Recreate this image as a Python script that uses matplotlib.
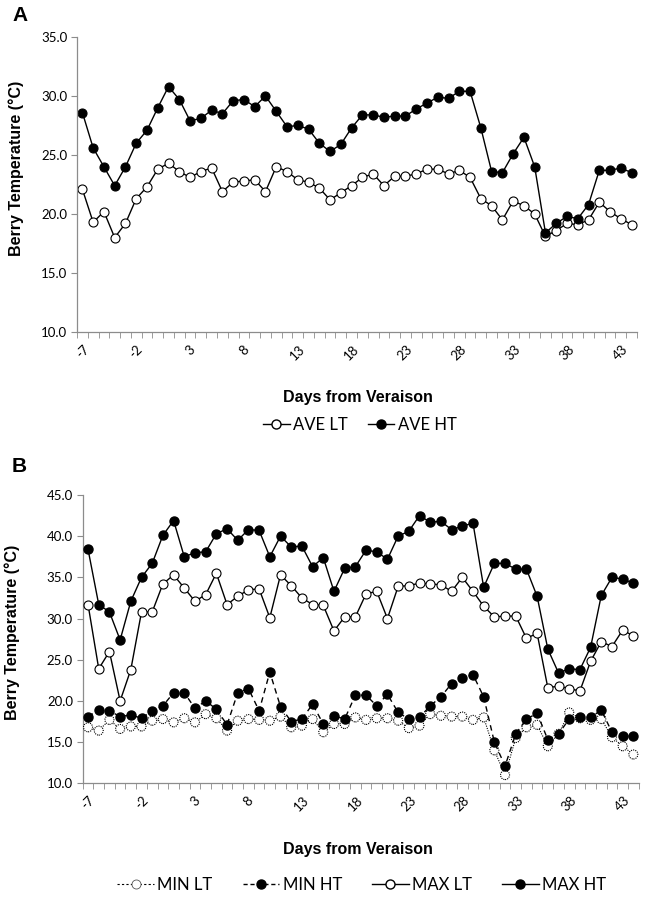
import matplotlib
matplotlib.use("Agg")
import matplotlib.pyplot as plt
from matplotlib.lines import Line2D

days = list(range(-7, 45))

ave_lt = [22.1, 19.3, 20.2, 18.0, 19.2, 21.3, 22.3, 23.8, 24.3, 23.6, 23.1, 23.6, 23.9, 21.9, 22.7, 22.8, 22.9,
          21.9, 24.0, 23.6, 22.9, 22.7, 22.2, 21.2, 21.8, 22.4, 23.1, 23.4, 22.4, 23.2, 23.2, 23.4, 23.8, 23.8, 23.4,
          23.7, 23.1, 21.3, 20.7, 19.5, 21.1, 20.7, 20.0, 18.1, 18.6, 19.2, 19.1, 19.5, 21.0, 20.2, 19.6, 19.1]
ave_ht = [28.6, 25.6, 24.0, 22.4, 24.0, 26.0, 27.1, 29.0, 30.8, 29.7, 27.9, 28.1, 28.8, 28.5, 29.6, 29.7, 29.1,
          30.0, 28.7, 27.4, 27.5, 27.2, 26.0, 25.3, 25.9, 27.3, 28.4, 28.4, 28.2, 28.3, 28.3, 28.9, 29.4, 29.9, 29.8,
          30.4, 30.4, 27.3, 23.6, 23.5, 25.1, 26.5, 24.0, 18.4, 19.2, 19.8, 19.6, 20.8, 23.7, 23.7, 23.9, 23.5]

min_lt = [16.8, 16.4, 17.7, 16.6, 16.9, 16.9, 17.6, 17.8, 17.4, 17.9, 17.4, 18.4, 17.9, 16.4, 17.6, 17.8, 17.7,
          17.6, 18.1, 16.8, 17.0, 17.8, 16.2, 17.2, 17.2, 18.0, 17.7, 17.9, 17.9, 17.6, 16.7, 17.0, 18.4, 18.2,
          18.1, 18.1, 17.7, 18.0, 14.0, 11.0, 15.5, 16.8, 17.1, 14.5, 16.0, 18.6, 17.9, 17.7, 17.8, 15.6, 14.5, 13.5]
min_ht = [18.1, 18.9, 18.8, 18.1, 18.3, 17.9, 18.8, 19.4, 21.0, 21.0, 19.1, 20.0, 19.0, 17.1, 21.0, 21.5, 18.8,
          23.5, 19.3, 17.5, 17.8, 19.6, 17.2, 18.2, 17.8, 20.7, 20.7, 19.4, 20.8, 18.6, 17.8, 18.0, 19.4, 20.5,
          22.1, 22.8, 23.2, 20.5, 15.0, 12.1, 16.0, 17.8, 18.5, 15.3, 16.0, 17.8, 18.0, 18.0, 18.9, 16.2, 15.8, 15.7]
max_lt = [31.7, 23.9, 26.0, 20.0, 23.8, 30.8, 30.8, 34.2, 35.3, 33.7, 32.1, 32.9, 35.5, 31.7, 32.7, 33.5, 33.6,
          30.1, 35.3, 34.0, 32.5, 31.7, 31.6, 28.5, 30.2, 30.2, 33.0, 33.3, 30.0, 33.9, 34.0, 34.3, 34.2, 34.1,
          33.3, 35.0, 33.3, 31.5, 30.2, 30.3, 30.3, 27.6, 28.2, 21.6, 21.8, 21.5, 21.2, 24.8, 27.2, 26.6, 28.6, 27.9]
max_ht = [38.4, 31.7, 30.8, 27.4, 32.1, 35.0, 36.7, 40.1, 41.9, 37.5, 38.0, 38.1, 40.3, 40.9, 39.5, 40.8, 40.7,
          37.5, 40.0, 38.7, 38.8, 36.3, 37.4, 33.3, 36.1, 36.3, 38.3, 38.1, 37.2, 40.0, 40.6, 42.5, 41.7, 41.8,
          40.8, 41.2, 41.6, 33.8, 36.7, 36.7, 36.0, 36.0, 32.7, 26.3, 23.4, 23.9, 23.8, 26.5, 32.8, 35.0, 34.8, 34.3]

label_font = ["Liberation Sans Narrow", "Liberation Sans", "DejaVu Sans"]
tick_font = ["Lato", "DejaVu Sans"]
grey = "#8c8c8c"
ms = 6.5

fig = plt.figure(figsize=(6.46, 8.97), dpi=100)
axA = fig.add_axes([77 / 646, 1 - 332 / 897, 560 / 646, 295 / 897])
axB = fig.add_axes([82.7 / 646, 1 - 783.3 / 897, 556 / 646, 288.3 / 897])

idx = list(range(len(days)))


def style_axis(ax, ymin, ymax):
    ax.set_xlim(-0.5, len(days) - 0.5)
    ax.set_ylim(ymin, ymax)
    for s in ["top", "right"]:
        ax.spines[s].set_visible(False)
    for s in ["left", "bottom"]:
        ax.spines[s].set_color(grey)
        ax.spines[s].set_linewidth(0.9)
    ax.set_yticks(range(ymin, ymax + 1, 5))
    ax.set_yticklabels(["%.1f" % v for v in range(ymin, ymax + 1, 5)], fontfamily=tick_font, fontsize=9.5)
    ax.tick_params(axis="y", direction="out", length=4, color=grey, pad=3)
    ax.set_xticks(idx[::5])
    ax.set_xticklabels([str(d) for d in days[::5]], rotation=45, ha="center",
                       fontfamily=tick_font, fontsize=9.5)
    ax.set_xticks([i - 0.5 for i in range(len(days) + 1)], minor=True)
    ax.tick_params(axis="x", which="major", length=0, pad=8)
    ax.tick_params(axis="x", which="minor", direction="out", length=4, color=grey)
    ax.set_xlabel("Days from Veraison", fontfamily=label_font, fontweight="bold", fontsize=11.5)
    ax.set_ylabel("Berry Temperature (°C)", fontfamily=label_font, fontweight="bold", fontsize=11.5)


# panel A
axA.plot(idx, ave_lt, color="black", lw=1.0, marker="o", ms=ms, mfc="white", mec="black", mew=0.8)
axA.plot(idx, ave_ht, color="black", lw=1.0, marker="o", ms=ms, mfc="black", mec="black", mew=0.8)
style_axis(axA, 10, 35)
axA.xaxis.set_label_coords(0.502, -0.197)
axA.yaxis.set_label_coords(-0.095, 0.553)

# panel B
axB.plot(idx, min_lt, color="black", lw=0.8, ls=(0, (1, 1.2)), zorder=2)
axB.scatter(idx, min_lt, s=ms ** 2, facecolors="white", edgecolors="black",
            linewidths=0.8, linestyles=(0, (1, 1)), zorder=3)
axB.plot(idx, min_ht, color="black", lw=1.0, ls=(0, (4, 3)), marker="o", ms=ms,
         mfc="black", mec="black", zorder=4)
axB.plot(idx, max_lt, color="black", lw=1.0, marker="o", ms=ms, mfc="white", mec="black", mew=0.8, zorder=5)
axB.plot(idx, max_ht, color="black", lw=1.0, marker="o", ms=ms, mfc="black", mec="black", zorder=6)
style_axis(axB, 10, 45)
axB.xaxis.set_label_coords(0.495, -0.205)
axB.yaxis.set_label_coords(-0.113, 0.524)

fig.text(12 / 646, 1 - 6 / 897, "A", fontfamily=["Liberation Sans", "DejaVu Sans"], fontweight="bold",
         fontsize=15, va="top", ha="left")
fig.text(12 / 646, 1 - 457 / 897, "B", fontfamily=["Liberation Sans", "DejaVu Sans"], fontweight="bold",
         fontsize=15, va="top", ha="left")

legA = [Line2D([], [], color="black", lw=1.0, marker="o", ms=ms, mfc="white", mec="black", label="AVE LT"),
        Line2D([], [], color="black", lw=1.0, marker="o", ms=ms, mfc="black", mec="black", label="AVE HT")]
fig.legend(handles=legA, loc="center", bbox_to_anchor=(0.557, 1 - 425 / 897), ncol=2, frameon=False,
           prop={"family": tick_font, "size": 12}, handlelength=1.6, handletextpad=0.2, columnspacing=1.2)

legB = [Line2D([], [], color="black", lw=0.8, ls=(0, (2, 2)), marker="o", ms=ms, mfc="white", mec="#555555",
               mew=0.6, label="MIN LT"),
        Line2D([], [], color="black", lw=1.0, ls=(0, (3, 2)), marker="o", ms=ms, mfc="black", mec="black",
               label="MIN HT"),
        Line2D([], [], color="black", lw=1.0, marker="o", ms=ms, mfc="white", mec="black", label="MAX LT"),
        Line2D([], [], color="black", lw=1.0, marker="o", ms=ms, mfc="black", mec="black", label="MAX HT")]
fig.legend(handles=legB, loc="center", bbox_to_anchor=(0.56, 1 - 885 / 897), ncol=4, frameon=False,
           prop={"family": tick_font, "size": 12}, handlelength=2.2, handletextpad=0.2, columnspacing=1.8)

fig.savefig("out.png", dpi=100)
